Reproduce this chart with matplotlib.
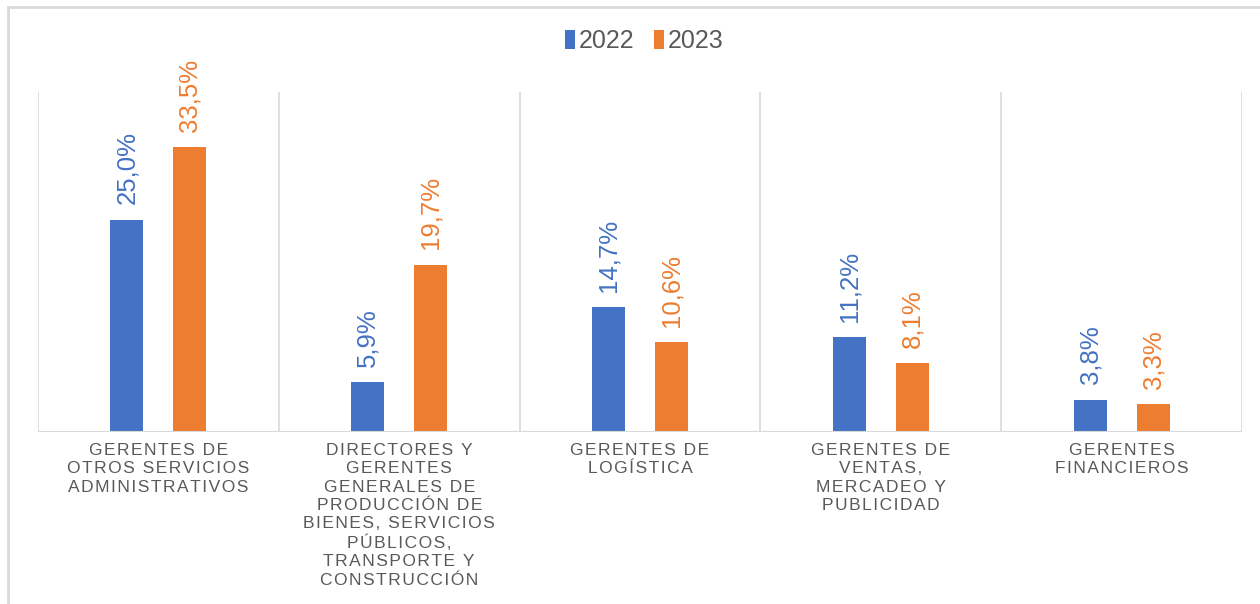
import matplotlib.pyplot as plt
from matplotlib.patches import Rectangle
import numpy as np

# Datos
categorias = [
    "GERENTES DE\nOTROS SERVICIOS\nADMINISTRATIVOS",
    "DIRECTORES Y\nGERENTES\nGENERALES DE\nPRODUCCIÓN DE\nBIENES, SERVICIOS\nPÚBLICOS,\nTRANSPORTE Y\nCONSTRUCCIÓN",
    "GERENTES DE\nLOGÍSTICA",
    "GERENTES DE\nVENTAS,\nMERCADEO Y\nPUBLICIDAD",
    "GERENTES\nFINANCIEROS",
]
valores_2022 = [25.0, 5.9, 14.7, 11.2, 3.8]
valores_2023 = [33.5, 19.7, 10.6, 8.1, 3.3]
series = ["2022", "2023"]

AZUL = "#4472C4"
NARANJA = "#ED7D31"
GRIS_TEXTO = "#595959"
GRIS_LINEA = "#D9D9D9"

plt.rcParams['font.family'] = ['Liberation Sans', 'DejaVu Sans']


def espaciar(txt):
    # espaciado entre letras como en el original
    return "\n".join("\u200a".join(linea) for linea in txt.split("\n"))


fig = plt.figure(figsize=(12.6, 6.04), dpi=100)
W, H = 1260, 604

# marco del gráfico
fig.patches.append(Rectangle((8 / W, -0.1), 1.2, 1 - 7 / H + 0.1, transform=fig.transFigure,
                             fill=False, edgecolor=GRIS_LINEA, lw=2))

ax = fig.add_axes([38 / W, (H - 432) / H, (1242 - 38) / W, (432 - 92) / H])

x = np.arange(len(categorias)) + 0.5
off = 0.131
ancho = 0.137

b1 = ax.bar(x - off, valores_2022, ancho, color=AZUL, label=series[0])
b2 = ax.bar(x + off, valores_2023, ancho, color=NARANJA, label=series[1])

for xs, vals, col in [(x - off, valores_2022, AZUL), (x + off, valores_2023, NARANJA)]:
    for xi, v in zip(xs, vals):
        ax.annotate(f"{v:.1f}%".replace(".", ","), (xi, v), xytext=(0, 11),
                    textcoords="offset points", rotation=90, ha="center", va="bottom",
                    color=col, fontsize=18.5)

ax.set_xlim(0, len(categorias))
ax.set_ylim(0, 40)

for i in range(len(categorias) + 1):
    ax.axvline(i, color=GRIS_LINEA, lw=1.2, zorder=0)
ax.axhline(0, color=GRIS_LINEA, lw=1.5, zorder=3)

for s in ax.spines.values():
    s.set_visible(False)
ax.set_yticks([])
ax.set_xticks(x)
ax.set_xticklabels([espaciar(c) for c in categorias], fontsize=12.5, color=GRIS_TEXTO,
                   linespacing=1.27, multialignment="center")
ax.tick_params(axis="x", length=0, pad=8)

fig.legend(handles=[b1, b2], labels=series, loc="center", bbox_to_anchor=(644 / W, 1 - 41 / H),
           ncol=2, frameon=False, fontsize=18, labelcolor=GRIS_TEXTO,
           handlelength=0.4, handleheight=0.8, handletextpad=0.15, columnspacing=0.8)

fig.savefig("out.png", dpi=100)
